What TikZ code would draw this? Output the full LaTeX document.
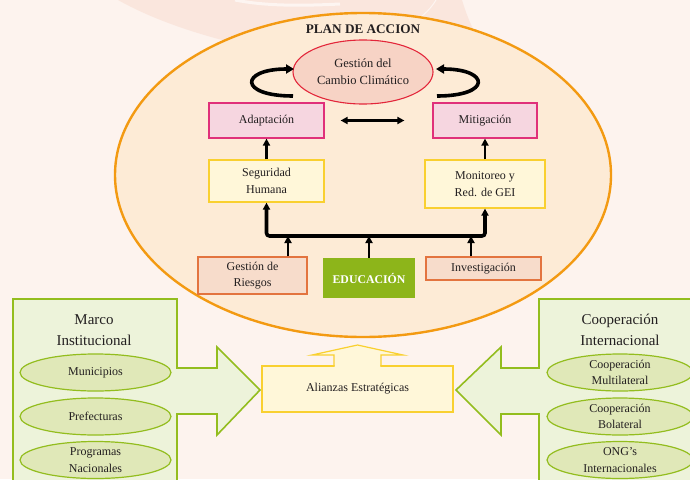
\documentclass[tikz,border=0pt]{standalone}
\usepackage{fontspec}
\setmainfont{Liberation Serif}
\usetikzlibrary{arrows.meta,shapes.geometric}
\definecolor{bgc}{HTML}{FDF3EE}
\definecolor{bandc}{HTML}{FAE6DD}
\definecolor{planfill}{HTML}{FDEBD6}
\definecolor{planline}{HTML}{F39A12}
\definecolor{gccfill}{HTML}{F7D3C5}
\definecolor{gccline}{HTML}{E3263A}
\definecolor{pinkfill}{HTML}{F6D6E0}
\definecolor{pinkline}{HTML}{E0307A}
\definecolor{yelfill}{HTML}{FFF7D9}
\definecolor{yelline}{HTML}{F9D030}
\definecolor{orfill}{HTML}{F7DCCB}
\definecolor{orline}{HTML}{E3743F}
\definecolor{edu}{HTML}{8DB51A}
\definecolor{grfill}{HTML}{EDF3DA}
\definecolor{grline}{HTML}{93BD1E}
\definecolor{elfill}{HTML}{E0E8B8}
\definecolor{txt}{HTML}{231F20}
\tikzset{
  base/.style={text=txt, align=center, inner sep=0pt, font=\fontsize{12}{16.5}\selectfont},
  pinkbox/.style={base, rectangle, fill=pinkfill, draw=pinkline, line width=1.2pt},
  yelbox/.style={base, rectangle, fill=yelfill, draw=yelline, line width=1.2pt},
  orbox/.style={base, rectangle, fill=orfill, draw=orline, line width=1.2pt},
  edubox/.style={rectangle, fill=edu, text=white, inner sep=0pt, font=\fontsize{11.8}{14}\selectfont\bfseries},
  smallel/.style={base, ellipse, fill=elfill, draw=grline, line width=1.2pt, inner sep=0pt, font=\fontsize{12}{16.5}\selectfont},
  arr/.style={line width=2.6pt, -{Triangle[length=7pt,width=7pt]}},
  curvearr/.style={line width=3.6pt, line cap=butt, -{Triangle[length=8pt,width=9pt]}},
  dblarr/.style={line width=2.2pt, {Triangle[length=7pt,width=7pt]}-{Triangle[length=7pt,width=7pt]}},
  busline/.style={line width=3.6pt, rounded corners=3pt, {Triangle[length=7pt,width=7pt]}-{Triangle[length=7pt,width=7pt]}},
  panel/.style={fill=grfill, draw=grline, line width=1.6pt, line join=miter},
  title/.style={text=txt, align=center, font=\fontsize{15}{21}\selectfont}
}
\begin{document}
\begin{tikzpicture}[x=1pt,y=-1pt]
\useasboundingbox (0,0) rectangle (690,479);
\clip (0,0) rectangle (690,479);
\fill[bgc] (0,0) rectangle (690,479);
% faint background band
\fill[bandc] (118,0) .. controls (150,18) and (190,32) .. (230,42)
  -- (480,42) .. controls (470,25) and (465,10) .. (462,0) -- cycle;
\draw[white, opacity=0.6, line width=3pt] (235,0) .. controls (265,6) and (300,6) .. (340,4);
\draw[white, opacity=0.6, line width=1pt] (400,30) .. controls (420,20) and (430,10) .. (436,0);
% big ellipse
\node[ellipse, minimum width=496pt, minimum height=324pt, fill=planfill, draw=planline, line width=2.4pt, inner sep=0pt] (plan) at (363,175) {};
\node[text=txt, font=\fontsize{13.2}{15}\selectfont\bfseries, inner sep=0pt] (plantitle) at (363,29) {PLAN DE ACCION};
% climate ellipse
\node[base, ellipse, fill=gccfill, draw=gccline, line width=1.1pt, minimum width=140pt, minimum height=64pt, font=\fontsize{12.5}{17}\selectfont] (gcc) at (363,72) {Gestión del\\Cambio Climático};
% boxes
\node[pinkbox, minimum width=115pt, minimum height=35pt] (adap) at (266.5,120.5) {Adaptación};
\node[pinkbox, minimum width=104pt, minimum height=35pt] (miti) at (485,120.5) {Mitigación};
\node[yelbox, minimum width=115pt, minimum height=42pt] (seg) at (266.5,181) {Seguridad\\Humana};
\node[yelbox, minimum width=120pt, minimum height=48pt] (mon) at (485,184) {Monitoreo y\\Red. de GEI};
\node[orbox, minimum width=109pt, minimum height=37pt] (ries) at (252.5,275.5) {Gestión de\\Riesgos};
\node[edubox, minimum width=92pt, minimum height=40pt] (educ) at (369,278) {EDUCACIÓN};
\node[orbox, minimum width=115pt, minimum height=23pt] (inv) at (483.5,268.5) {Investigación};
% curved arrows
\coordinate (cl1) at (293,96); \coordinate (cl2) at (294,69);
\coordinate (cr1) at (437,96); \coordinate (cr2) at (436,69);
\draw[curvearr] (cl1) .. controls (238,96) and (240,69) .. (cl2);
\draw[curvearr] (cr1) .. controls (492,96) and (490,69) .. (cr2);
\draw[dblarr] ([xshift=16pt]adap.east) -- ([xshift=-28pt]miti.west);
% vertical arrows
\draw[arr] (seg.north) -- (adap.south);
\draw[arr] (mon.north) -- (miti.south);
% bus
\coordinate (busy) at (0,236);
\draw[busline] (seg.south) -- (seg.south |- busy) -- (mon.south |- busy) -- (mon.south);
\coordinate (b1) at (288,236);
\coordinate (b2) at (369,236);
\coordinate (b3) at (471,236);
\draw[arr] (b1 |- ries.north) -- (b1);
\draw[arr] (b2 |- educ.north) -- (b2);
\draw[arr] (b3 |- inv.north) -- (b3);
% left panel
\draw[panel] (13,299) -- (177,299) -- (177,368) -- (217,368) -- (217,347) -- (260,390)
  -- (217,435) -- (217,414) -- (177,414) -- (177,490) -- (13,490) -- cycle;
\node[title] (marco) at (94,330) {Marco\\Institucional};
\node[smallel, minimum width=151pt, minimum height=37pt] (muni) at (95.5,372.5) {Municipios};
\node[smallel, minimum width=151pt, minimum height=37pt] (pref) at (95.5,416.5) {Prefecturas};
\node[smallel, minimum width=151pt, minimum height=37pt] (prog) at (95.5,460) {Programas\\Nacionales};
% right panel
\draw[panel] (539,299) -- (700,299) -- (700,490) -- (539,490) -- (539,414) -- (501,414)
  -- (501,435) -- (456,390) -- (501,347) -- (501,368) -- (539,368) -- cycle;
\node[title] (coop) at (620,330) {Cooperación\\Internacional};
\node[smallel, minimum width=146pt, minimum height=37pt] (multi) at (620,372.5) {Cooperación\\Multilateral};
\node[smallel, minimum width=146pt, minimum height=37pt] (bila) at (620,416.5) {Cooperación\\Bolateral};
\node[smallel, minimum width=146pt, minimum height=37pt] (ong) at (620,460) {ONG’s\\Internacionales};
% alianzas
\node[yelbox, minimum width=191pt, minimum height=46pt] (ali) at (357.5,389) {Alianzas Estratégicas};
\fill[yelfill] (334.6,368) -- (334.6,355) -- (312,355) -- (357.5,345) -- (403,355) -- (380.4,355) -- (380.4,368) -- cycle;
\draw[yelline, line width=1.2pt, line join=miter] (334,366) -- (334,355) -- (312,355) -- (357.5,345) -- (403,355) -- (381,355) -- (381,366);
\end{tikzpicture}
\end{document}
